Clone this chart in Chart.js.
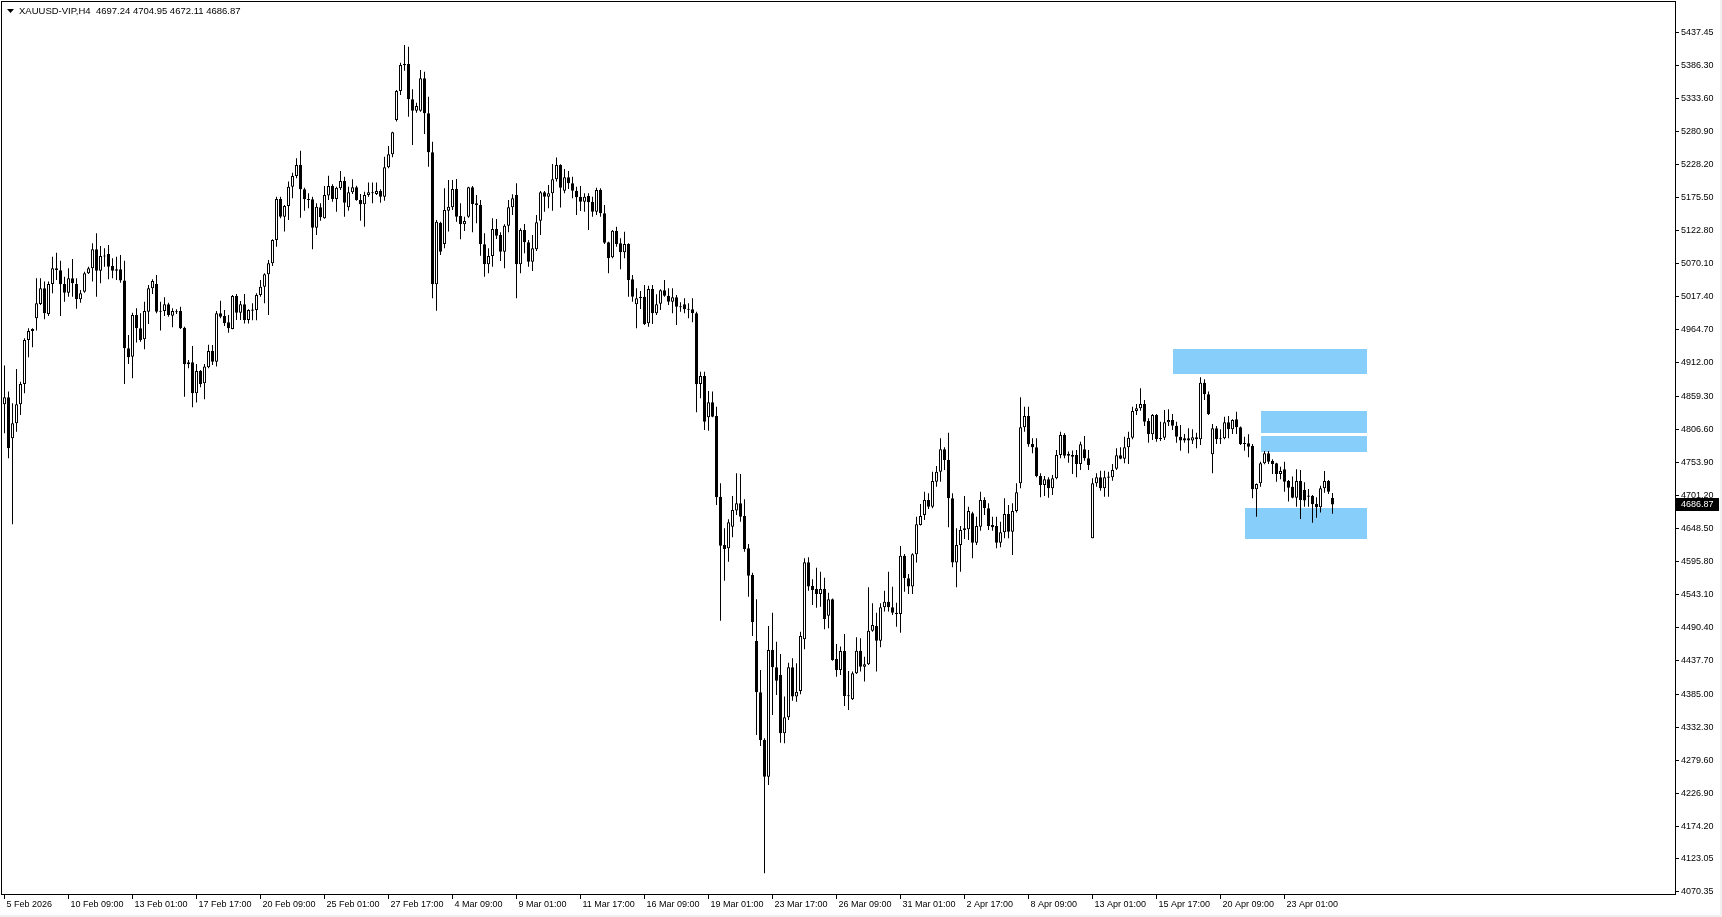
<!DOCTYPE html>
<html>
<head>
<meta charset="utf-8">
<title>XAUUSD-VIP,H4</title>
<script src="https://cdn.jsdelivr.net/npm/chart.js@4.4.1/dist/chart.umd.min.js"></script>
<style>
html, body { margin: 0; padding: 0; background: #ffffff; overflow: hidden; }
canvas { display: block; }
</style>
</head>
<body>
<canvas id="mycanvas" width="1722" height="917"></canvas>
<script>
// H4 candles, oldest first (bar 0 = 5 Feb 17:00)
var openPrices = [
4846.2,4857.3,4792.1,4815.9,4846.2,4878.6,4948.6,4962.9,4983.1,5005.9,
5030.9,4990.0,5037.8,5062.7,5059.5,5037.8,5023.9,5046.8,5037.8,5013.3,
5025.5,5054.7,5062.7,5092.9,5059.0,5082.3,5085.5,5066.4,5061.1,5061.1,
5043.1,4935.4,4922.1,4988.4,4967.2,4949.7,4993.7,5030.9,5037.8,4994.8,
4994.8,5005.4,4987.3,4993.7,4994.8,4968.2,4909.9,4913.1,4863.7,4899.3,
4879.6,4905.1,4931.1,4914.1,4991.0,4986.8,4976.7,4966.1,5018.6,4992.1,
5005.4,4980.4,4995.0,4996.4,5020.2,5033.5,5053.1,5070.7,5107.8,5173.1,
5144.9,5161.9,5192.7,5209.7,5227.2,5188.4,5172.5,5172.5,5127.4,5159.8,
5142.3,5178.4,5193.7,5173.0,5190.0,5201.7,5159.8,5183.7,5191.6,5171.5,
5164.6,5179.4,5182.1,5181.0,5185.8,5176.8,5223.5,5244.1,5298.8,5345.0,
5385.8,5387.9,5331.7,5313.6,5313.6,5365.1,5309.4,5247.3,5037.2,5135.4,
5101.4,5154.5,5159.8,5188.9,5146.0,5132.7,5144.9,5191.6,5166.2,5163.5,
5100.9,5069.0,5082.3,5125.3,5115.7,5089.2,5130.6,5159.8,5179.4,5069.0,
5123.7,5104.1,5073.3,5093.0,5138.6,5183.7,5176.8,5182.1,5204.3,5227.2,
5186.3,5207.5,5198.0,5186.3,5176.8,5168.8,5177.8,5168.8,5152.9,5187.4,
5150.2,5104.1,5080.2,5122.6,5102.5,5088.2,5101.4,5045.2,5005.4,5014.9,
5017.6,4975.1,5029.8,4991.0,5006.4,5027.7,5019.2,5009.6,5016.5,5001.7,
5005.4,4997.9,4997.4,4991.0,4878.6,4891.3,4825.5,4849.4,4827.6,4699.2,
4622.3,4617.0,4651.5,4677.0,4688.6,4668.4,4617.0,4574.5,4469.5,4387.8,
4311.9,4253.5,4455.1,4427.6,4415.3,4322.5,4348.0,4427.6,4380.9,4389.9,
4472.1,4594.7,4557.0,4552.3,4544.3,4552.3,4509.8,4535.8,4440.8,4423.3,
4453.6,4381.9,4376.6,4418.0,4454.1,4428.6,4432.4,4485.9,4493.3,4470.0,
4523.1,4532.1,4523.1,4514.6,4512.5,4605.3,4569.2,4556.0,4607.4,4654.1,
4670.0,4693.9,4683.3,4723.1,4739.0,4774.6,4757.6,4696.6,4594.2,4622.3,
4646.2,4647.2,4672.7,4626.0,4651.5,4693.9,4680.6,4654.1,4652.5,4626.0,
4642.4,4671.6,4643.5,4676.4,4720.4,4809.6,4827.6,4783.1,4777.7,4732.1,
4717.8,4726.8,4712.5,4728.4,4765.5,4797.4,4767.1,4765.5,4765.5,4751.2,
4774.6,4760.3,4632.9,4720.4,4730.0,4712.5,4730.0,4730.0,4743.8,4765.0,
4759.7,4777.7,4793.1,4835.6,4839.8,4846.7,4819.7,4798.5,4829.2,4791.6,
4793.1,4817.6,4821.3,4812.2,4794.7,4792.0,4792.0,4788.4,4793.7,4790.5,
4880.7,4862.1,4766.6,4808.0,4792.0,4792.0,4817.6,4806.4,4822.3,4809.6,
4784.1,4784.1,4779.9,4710.9,4720.4,4752.3,4768.2,4756.0,4752.3,4735.3,
4742.7,4724.2,4715.1,4697.6,4724.2,4709.8,4700.3,4700.3,4687.5,4682.2,
4712.5,4724.2,4697.24
];
var highPrices = [
4907.8,4866.4,4847.8,4902.4,4882.3,4951.3,4967.2,4967.2,5046.8,5046.8,
5041.5,5041.5,5081.2,5087.6,5074.9,5049.4,5062.7,5077.5,5046.8,5028.2,
5057.4,5065.3,5102.5,5118.4,5098.2,5094.5,5099.8,5078.6,5081.2,5083.9,
5074.9,4956.6,4992.1,4999.0,4991.0,5009.6,5036.2,5045.2,5052.1,5009.6,
5016.5,5008.0,4999.0,4997.4,5001.7,4969.8,4916.8,4939.1,4910.4,4900.9,
4910.4,4941.2,4940.6,4994.8,5011.2,4996.4,4988.4,5020.2,5021.8,5010.7,
5021.8,4997.4,5007.0,5022.9,5044.1,5054.7,5076.0,5108.9,5176.8,5176.8,
5163.5,5200.7,5215.0,5237.8,5250.0,5191.1,5182.1,5176.8,5166.2,5166.2,
5193.7,5210.2,5196.4,5192.7,5217.6,5208.6,5192.7,5204.4,5194.3,5181.0,
5184.7,5199.1,5199.1,5199.1,5188.4,5240.4,5257.4,5280.2,5346.6,5390.1,
5418.2,5415.5,5347.6,5326.4,5378.4,5375.7,5335.9,5264.3,5139.6,5137.0,
5190.0,5203.3,5203.3,5205.0,5166.2,5144.9,5192.7,5193.7,5179.4,5171.5,
5118.4,5094.5,5142.3,5141.2,5120.0,5132.7,5171.5,5180.5,5198.0,5126.3,
5133.3,5107.8,5115.7,5147.6,5185.8,5185.8,5195.3,5228.8,5238.9,5228.2,
5220.8,5217.6,5208.6,5192.7,5193.7,5182.1,5182.1,5176.8,5191.1,5190.0,
5163.5,5105.1,5123.7,5129.0,5110.4,5121.0,5102.5,5052.1,5030.9,5026.6,
5036.2,5035.1,5036.2,5021.3,5029.3,5044.1,5030.9,5030.9,5020.2,5008.6,
5014.9,5006.9,5014.9,4993.7,4898.2,4898.2,4867.4,4866.4,4842.5,4720.4,
4648.8,4663.2,4700.3,4736.4,4735.3,4695.0,4623.9,4578.2,4535.8,4423.3,
4314.5,4493.4,4514.6,4468.4,4448.8,4380.9,4435.0,4441.9,4433.9,4484.3,
4601.1,4602.7,4567.6,4586.2,4579.8,4570.3,4546.4,4537.0,4464.7,4460.5,
4480.6,4421.7,4420.7,4475.3,4473.7,4444.5,4554.9,4529.4,4514.6,4529.4,
4549.6,4579.8,4555.9,4530.5,4620.7,4608.0,4576.1,4609.0,4667.4,4687.5,
4707.2,4704.5,4739.0,4748.0,4792.1,4777.7,4801.1,4704.5,4648.8,4652.5,
4700.3,4683.3,4675.3,4667.4,4707.2,4698.2,4688.6,4667.4,4667.4,4659.4,
4696.6,4685.9,4688.6,4720.4,4857.3,4842.5,4842.5,4792.1,4792.1,4736.4,
4732.1,4730.0,4733.7,4773.5,4802.7,4800.0,4770.9,4772.5,4773.5,4786.8,
4795.8,4773.5,4728.4,4736.4,4740.6,4740.6,4739.0,4751.2,4776.2,4777.7,
4794.7,4802.7,4842.5,4846.7,4871.7,4853.1,4823.9,4830.8,4830.8,4818.6,
4837.2,4838.2,4830.8,4818.6,4813.3,4799.0,4808.0,4806.4,4801.1,4889.2,
4886.0,4866.4,4814.9,4811.7,4806.4,4826.6,4827.6,4822.3,4834.5,4810.7,
4794.7,4798.5,4783.1,4720.0,4754.9,4771.9,4771.9,4758.6,4753.3,4747.0,
4754.9,4725.8,4731.1,4742.7,4741.7,4722.0,4711.4,4701.9,4698.2,4716.7,
4740.1,4725.8,4704.95
];
var lowPrices = [
4800.0,4760.2,4655.2,4802.7,4829.2,4863.7,4921.0,4936.9,4963.5,5004.3,
4981.5,4986.8,5022.9,5044.1,4986.8,5009.6,5017.6,5017.6,4998.5,5008.0,
5023.9,5053.7,5041.5,5017.6,5038.8,5065.3,5045.2,5046.8,5044.1,5039.9,
4878.6,4910.4,4887.6,4944.4,4945.9,4933.8,4974.1,5021.8,4991.0,4963.5,
4986.8,4985.7,4968.8,4990.0,4966.1,4858.4,4903.5,4841.4,4848.9,4873.3,
4854.2,4903.5,4908.8,4906.2,4983.1,4970.9,4960.3,4965.6,4980.4,4980.4,
4975.0,4975.0,4980.0,4980.0,5017.6,5007.0,4988.4,5066.4,5097.2,5142.3,
5121.1,5139.6,5174.1,5205.9,5143.3,5154.5,5158.2,5092.9,5115.7,5138.6,
5141.7,5171.5,5168.8,5152.9,5187.4,5144.9,5154.5,5181.0,5170.4,5138.6,
5129.0,5176.8,5166.2,5179.4,5167.2,5170.4,5221.9,5239.4,5296.2,5338.6,
5377.3,5304.1,5259.0,5310.5,5312.1,5276.5,5224.5,5014.9,4995.3,5083.9,
5094.5,5121.1,5155.5,5137.0,5108.8,5122.1,5143.3,5120.0,5134.3,5082.8,
5049.4,5054.7,5065.3,5109.4,5074.4,5062.7,5120.0,5147.6,5014.9,5054.7,
5086.6,5065.3,5058.4,5090.3,5115.7,5152.9,5158.2,5154.5,5200.7,5159.3,
5182.1,5189.0,5174.1,5147.6,5153.9,5152.9,5123.7,5144.9,5147.6,5144.9,
5101.4,5054.7,5078.6,5097.2,5061.1,5078.6,5017.6,5009.6,4967.2,4997.9,
4972.5,4969.8,4974.1,4988.4,4996.4,5017.6,5004.3,4991.0,4972.5,4993.7,
4991.0,4983.1,4976.7,4833.5,4855.8,4805.3,4804.3,4825.5,4686.0,4501.8,
4565.5,4595.7,4634.5,4670.0,4659.4,4611.7,4540.0,4477.4,4319.8,4302.3,
4099.6,4240.3,4351.7,4383.5,4307.6,4306.6,4343.7,4374.5,4372.9,4384.6,
4456.2,4549.6,4526.8,4522.5,4524.1,4488.0,4489.6,4438.0,4412.7,4415.4,
4366.0,4359.6,4375.5,4416.9,4420.7,4404.8,4431.3,4484.3,4420.7,4459.4,
4516.2,4516.2,4510.9,4492.3,4482.7,4548.0,4544.3,4544.3,4594.2,4653.1,
4662.1,4679.6,4680.6,4715.1,4723.1,4741.7,4650.4,4586.7,4554.9,4579.8,
4631.8,4630.2,4601.1,4622.3,4645.1,4670.0,4646.2,4645.1,4617.0,4618.6,
4632.9,4632.9,4606.4,4673.8,4712.5,4802.7,4778.8,4768.2,4730.0,4698.2,
4700.3,4697.6,4701.9,4726.8,4760.3,4760.3,4753.3,4735.3,4730.0,4741.7,
4756.5,4741.7,4632.9,4715.1,4708.8,4699.2,4699.2,4724.7,4741.7,4758.6,
4752.3,4751.2,4790.5,4829.2,4836.1,4811.7,4785.2,4789.4,4786.8,4787.8,
4789.4,4811.7,4805.4,4785.2,4772.4,4785.2,4768.2,4783.1,4776.2,4781.5,
4853.1,4829.2,4736.4,4783.1,4783.1,4790.5,4792.0,4799.0,4799.0,4781.5,
4772.4,4761.8,4696.6,4667.4,4715.1,4750.7,4751.2,4735.3,4723.1,4726.8,
4707.2,4691.3,4696.6,4683.3,4663.7,4683.3,4683.3,4657.8,4665.8,4673.8,
4705.6,4703.5,4672.11
];
var closePrices = [
4857.3,4776.2,4815.9,4846.2,4878.6,4948.6,4962.9,4966.1,5006.9,5030.9,
4991.0,5037.8,5062.7,5060.0,5037.2,5023.9,5046.8,5038.8,5013.3,5022.9,
5054.7,5062.7,5092.9,5059.0,5082.3,5082.0,5065.3,5059.0,5059.0,5043.1,
4935.4,4921.0,4988.4,4967.2,4948.6,4994.8,5030.9,5042.5,4993.7,4994.2,
5005.4,4988.4,4994.8,4993.5,4967.2,4909.9,4913.1,4863.7,4899.3,4878.6,
4906.2,4931.1,4914.1,4991.0,4985.7,4975.1,4967.2,5018.6,4992.1,5005.4,
4980.4,4996.4,4997.0,5020.2,5033.5,5053.1,5070.7,5107.8,5173.1,5144.9,
5161.9,5192.7,5209.7,5227.2,5188.4,5172.5,5172.0,5127.4,5160.8,5143.9,
5179.4,5193.7,5173.0,5191.1,5201.7,5167.2,5183.7,5191.6,5171.5,5164.6,
5179.4,5183.7,5183.7,5185.8,5176.8,5223.5,5244.1,5279.2,5345.0,5386.3,
5387.9,5331.7,5313.6,5321.1,5365.1,5309.4,5247.3,5037.2,5137.0,5089.2,
5155.5,5160.8,5188.9,5144.9,5132.7,5138.0,5191.6,5165.1,5163.5,5100.9,
5069.0,5082.3,5125.3,5114.7,5089.2,5130.6,5159.8,5174.1,5069.0,5123.7,
5104.1,5073.3,5094.5,5135.9,5183.7,5176.8,5182.1,5204.3,5227.2,5191.1,
5207.5,5198.0,5186.3,5175.7,5168.8,5176.8,5167.7,5152.9,5187.4,5150.2,
5103.5,5078.6,5122.6,5101.4,5088.2,5101.4,5044.1,5017.6,5014.9,5017.6,
4974.1,5029.8,4991.0,5005.4,5027.7,5019.2,5009.6,5016.5,5001.7,5001.2,
4997.4,4997.4,4991.0,4878.0,4891.3,4818.6,4849.4,4826.6,4698.2,4621.2,
4615.9,4658.4,4678.0,4688.6,4667.4,4615.9,4573.5,4499.2,4387.8,4311.9,
4253.5,4455.1,4427.6,4406.3,4322.5,4348.0,4427.6,4380.9,4388.8,4477.4,
4594.7,4556.0,4550.7,4544.3,4552.3,4504.5,4535.8,4439.2,4423.3,4453.6,
4381.9,4382.4,4418.0,4454.1,4428.6,4432.4,4485.9,4494.9,4470.0,4523.1,
4532.1,4523.1,4514.6,4512.5,4605.3,4569.2,4556.0,4607.4,4655.2,4668.4,
4693.9,4683.3,4724.2,4739.0,4774.6,4757.6,4696.6,4594.2,4622.3,4646.2,
4648.8,4676.4,4626.0,4652.5,4693.9,4680.6,4652.5,4650.4,4626.0,4642.4,
4671.6,4643.5,4676.4,4706.1,4809.6,4827.6,4782.5,4777.7,4732.1,4717.8,
4726.8,4712.5,4728.4,4765.5,4797.4,4764.5,4764.5,4762.9,4751.2,4782.5,
4760.3,4749.6,4720.4,4730.0,4712.5,4730.0,4730.6,4741.7,4765.0,4759.7,
4777.7,4793.1,4835.6,4839.8,4846.7,4818.6,4798.5,4829.2,4791.0,4792.0,
4817.6,4821.3,4812.2,4794.7,4788.4,4788.4,4788.4,4793.7,4790.5,4880.7,
4862.1,4830.8,4808.0,4790.5,4790.5,4817.6,4806.4,4821.3,4809.6,4783.1,
4783.6,4778.8,4710.9,4719.4,4752.3,4768.2,4754.9,4751.2,4735.3,4740.1,
4723.1,4713.5,4697.6,4724.2,4693.9,4692.9,4699.8,4687.0,4682.2,4712.5,
4724.2,4707.2,4686.87
];

// time axis labels, one every 16 bars
var xTickLabels = ["5 Feb 2026", "10 Feb 09:00", "13 Feb 01:00", "17 Feb 17:00", "20 Feb 09:00",
  "25 Feb 01:00", "27 Feb 17:00", "4 Mar 09:00", "9 Mar 01:00", "11 Mar 17:00", "16 Mar 09:00",
  "19 Mar 01:00", "23 Mar 17:00", "26 Mar 09:00", "31 Mar 01:00", "2 Apr 17:00", "8 Apr 09:00",
  "13 Apr 01:00", "15 Apr 17:00", "20 Apr 09:00", "23 Apr 01:00"];
var xTickBars = [0, 16, 32, 48, 64, 80, 96, 112, 128, 144, 160, 176, 192, 208, 224, 240, 256, 272, 288, 304, 320];

// price axis labels
var yTickValues = [5437.45, 5386.30, 5333.60, 5280.90, 5228.20, 5175.50, 5122.80, 5070.10, 5017.40,
  4964.70, 4912.00, 4859.30, 4806.60, 4753.90, 4701.20, 4648.50, 4595.80, 4543.10, 4490.40,
  4437.70, 4385.00, 4332.30, 4279.60, 4226.90, 4174.20, 4123.05, 4070.35];
var yMin = 4066.7;
var yMax = 5489.8;

// blue zones (bar index range, price range)
var zoneFrom = [292, 314, 314, 310];
var zoneTo = [340.6, 340.6, 340.6, 340.6];
var zoneHigh = [4934.3, 4835.6, 4795.8, 4681.6];
var zoneLow = [4894.9, 4801.0, 4770.8, 4632.3];

var symbolTitle = "XAUUSD-VIP,H4";

var bodies = [];
var wicks = [];
var bodyColors = [];
for (var i = 0; i < closePrices.length; i++) {
    var o = openPrices[i], c = closePrices[i];
    var lo = Math.min(o, c), hi = Math.max(o, c);
    if (hi - lo < 1.6) {
        var m = (hi + lo) / 2;
        lo = m - 0.8;
        hi = m + 0.8;
    }
    bodies.push({x: i, y: [lo, hi]});
    wicks.push({x: i, y: [lowPrices[i], highPrices[i]]});
    bodyColors.push(c >= o ? "#ffffff" : "#000000");
}

var fontFamily = "'Liberation Sans', Arial, sans-serif";

var zonesPlugin = {
    id: "zones",
    beforeDatasetsDraw: function(chart) {
        var ctx = chart.ctx, xs = chart.scales.x, ys = chart.scales.y;
        ctx.save();
        ctx.fillStyle = "#87cefa";
        for (var k = 0; k < zoneFrom.length; k++) {
            var x1 = Math.round(xs.getPixelForValue(zoneFrom[k]));
            var x2 = Math.round(xs.getPixelForValue(zoneTo[k]));
            var y1 = Math.round(ys.getPixelForValue(zoneHigh[k]));
            var y2 = Math.round(ys.getPixelForValue(zoneLow[k]));
            ctx.fillRect(x1, y1, x2 - x1, y2 - y1);
        }
        ctx.restore();
    }
};

var framePlugin = {
    id: "frame",
    afterDraw: function(chart) {
        var ctx = chart.ctx, a = chart.chartArea, ys = chart.scales.y;
        var n = closePrices.length;
        ctx.save();
        // window edge
        ctx.fillStyle = "#f0f0f0";
        ctx.fillRect(chart.width - 2, 0, 2, chart.height);
        ctx.fillRect(0, chart.height - 2, chart.width, 2);
        // plot frame
        ctx.strokeStyle = "#000000";
        ctx.lineWidth = 1;
        ctx.strokeRect(a.left + 1.5, a.top + 1.5, a.right - a.left - 1, a.bottom - a.top - 1);
        // title
        ctx.fillStyle = "#000000";
        ctx.beginPath();
        ctx.moveTo(7, 9);
        ctx.lineTo(14, 9);
        ctx.lineTo(10.5, 13);
        ctx.closePath();
        ctx.fill();
        ctx.font = "9.5px " + fontFamily;
        ctx.textBaseline = "middle";
        ctx.textAlign = "left";
        ctx.fillText(symbolTitle + "  " + openPrices[n - 1].toFixed(2) + " " + highPrices[n - 1].toFixed(2) + " " +
            lowPrices[n - 1].toFixed(2) + " " + closePrices[n - 1].toFixed(2), 19, 11.5);
        // last price tag
        ctx.font = "9px " + fontFamily;
        var py = Math.round(ys.getPixelForValue(closePrices[n - 1]));
        ctx.fillStyle = "#000000";
        ctx.fillRect(a.right + 1, py - 6, 43, 13);
        ctx.fillStyle = "#ffffff";
        ctx.fillText(closePrices[n - 1].toFixed(2), a.right + 6, py + 0.5);
        ctx.restore();
    }
};

var ctx = document.getElementById("mycanvas");

var candleChart = new Chart(ctx, {
    type: "bar",
    data: {
        datasets: [
            {
                label: "body",
                data: bodies,
                backgroundColor: bodyColors,
                borderColor: "#000000",
                borderWidth: 1,
                borderSkipped: false,
                barThickness: 3,
                grouped: false,
                inflateAmount: 0
            },
            {
                label: "wick",
                data: wicks,
                backgroundColor: "#000000",
                borderWidth: 0,
                barThickness: 1,
                grouped: false,
                inflateAmount: 0
            }
        ]
    },
    options: {
        responsive: false,
        animation: false,
        devicePixelRatio: 1,
        layout: { padding: 0 },
        plugins: {
            legend: { display: false },
            tooltip: { enabled: false },
            title: { display: false }
        },
        scales: {
            x: {
                type: "linear",
                min: -1.125,
                max: 417.625,
                offset: false,
                afterBuildTicks: function(scale) {
                    scale.ticks = xTickBars.map(function(v) { return {value: v}; });
                },
                afterFit: function(scale) {
                    scale.height = 23;
                    scale.paddingLeft = 0;
                    scale.paddingRight = 0;
                },
                grid: { drawOnChartArea: false, drawTicks: true, tickLength: 5, color: "#000000", offset: false },
                border: { display: false },
                ticks: {
                    autoSkip: false,
                    maxRotation: 0,
                    minRotation: 0,
                    align: "start",
                    labelOffset: 2,
                    padding: 0,
                    color: "#000000",
                    font: { family: fontFamily, size: 9 },
                    callback: function(value, index) { return xTickLabels[index]; }
                }
            },
            y: {
                position: "right",
                min: yMin,
                max: yMax,
                afterBuildTicks: function(scale) {
                    scale.ticks = yTickValues.map(function(v) { return {value: v}; });
                },
                afterFit: function(scale) {
                    scale.width = 47;
                    scale.paddingTop = 0;
                    scale.paddingBottom = 0;
                },
                grid: { drawOnChartArea: false, drawTicks: true, tickLength: 4, color: "#000000" },
                border: { display: false },
                ticks: {
                    crossAlign: "near",
                    padding: 2,
                    color: "#000000",
                    font: { family: fontFamily, size: 9 },
                    callback: function(value) { return Number(value).toFixed(2); }
                }
            }
        }
    },
    plugins: [zonesPlugin, framePlugin]
});
</script>
</body>
</html>
